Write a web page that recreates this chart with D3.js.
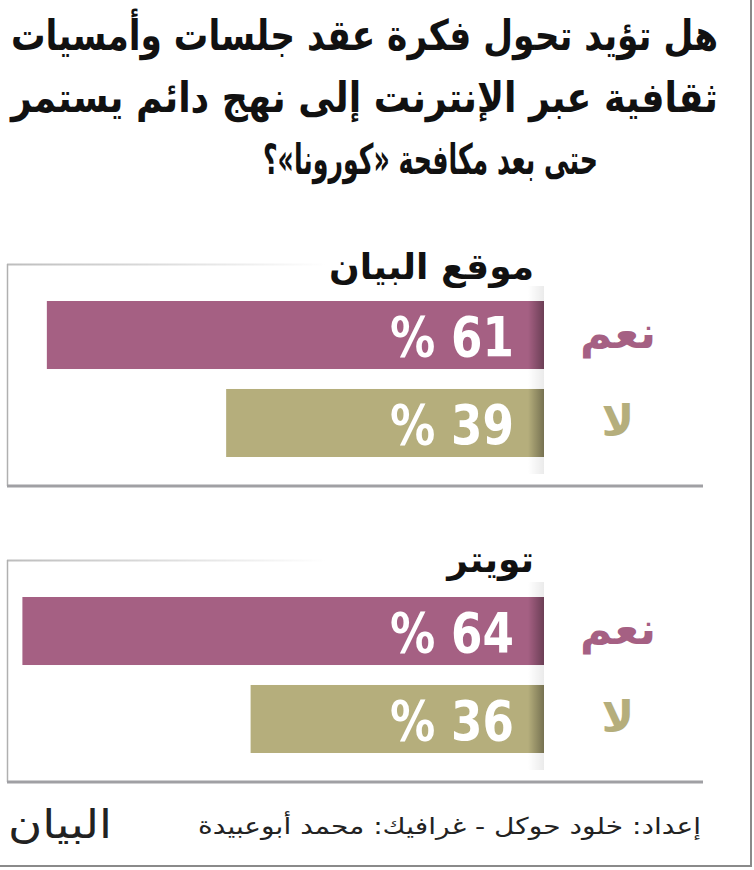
<!DOCTYPE html>
<html>
<head>
<meta charset="utf-8">
<script src="https://cdn.jsdelivr.net/npm/d3@7"></script>
<style>
  body { margin: 0; background: #fff; }
  svg { display: block; }
  text { font-family: "DejaVu Sans", sans-serif; }
</style>
</head>
<body>
<div class="chart"></div>
<script>
// Question title, one entry per line
var titleLines = [
	"هل تؤيد تحول فكرة عقد جلسات وأمسيات",
	"ثقافية عبر الإنترنت إلى نهج دائم يستمر",
	"حتى بعد مكافحة «كورونا»؟"
];

// Panels (source of the poll) and answers
var sources = ["موقع البيان", "تويتر"];
var answers = ["نعم", "لا"];
var siteValues = [61, 39];    // موقع البيان
var twitterValues = [64, 36]; // تويتر
var answerColors = ["#a56083", "#b5ae7c"];

var credits = "إعداد: خلود حوكل - غرافيك: محمد أبوعبيدة";
var logoText = "البيان";

var width = 754, height = 870;
var barEnd = 544;              // right end of every bar
var panelTops = [264, 560];    // top line of each panel box

var svg = d3.select('.chart')
	.append('svg')
	.attr('width', width)
	.attr('height', height);

var defs = svg.append('defs');

// top border of the boxes fades out to the right
var fade = defs.append('linearGradient')
	.attr('id', 'topFade')
	.attr('x1', 0).attr('x2', 1).attr('y1', 0).attr('y2', 0);
fade.append('stop').attr('offset', 0).attr('stop-color', '#bdbdbd').attr('stop-opacity', 1);
fade.append('stop').attr('offset', 1).attr('stop-color', '#bdbdbd').attr('stop-opacity', 0);

// shadow at the end of the bars
var shade = defs.append('linearGradient')
	.attr('id', 'shade')
	.attr('x1', 0).attr('x2', 1).attr('y1', 0).attr('y2', 0);
shade.append('stop').attr('offset', 0).attr('stop-color', '#000').attr('stop-opacity', 0);
shade.append('stop').attr('offset', 1).attr('stop-color', '#000').attr('stop-opacity', 0.35);

var shadeGap = defs.append('linearGradient')
	.attr('id', 'shadeGap')
	.attr('x1', 0).attr('x2', 1).attr('y1', 0).attr('y2', 0);
shadeGap.append('stop').attr('offset', 0).attr('stop-color', '#000').attr('stop-opacity', 0);
shadeGap.append('stop').attr('offset', 1).attr('stop-color', '#000').attr('stop-opacity', 0.08);

// outer frame: right and bottom edges
svg.append('line')
	.attr('x1', 751).attr('x2', 751).attr('y1', 0).attr('y2', 866)
	.attr('stroke', '#8a8a8a').attr('stroke-width', 2);
svg.append('line')
	.attr('x1', 0).attr('x2', 752).attr('y1', 866).attr('y2', 866)
	.attr('stroke', '#8a8a8a').attr('stroke-width', 2);

// Title (rtl, so 'start' is the right edge)
svg.selectAll('.title')
	.data(titleLines)
	.enter()
	.append('text')
	.attr('class', 'title')
	.attr('x', function(d, i) { return i < 2 ? 718 : 598; })
	.attr('y', function(d, i) { return 50 + i * 62; })
	.attr('text-anchor', 'start')
	.attr('direction', 'rtl')
	.attr('font-size', 42)
	.attr('font-weight', 'bold')
	.attr('fill', '#111')
	.attr('textLength', function(d, i) { return i < 2 ? 707 : 335; })
	.attr('lengthAdjust', 'spacingAndGlyphs')
	.text(function(d) { return d; });

// bar length scale
var x = d3.scaleLinear().domain([0, 100]).range([0, 815]);

// bars within a panel
var y = d3.scaleBand().domain(answers).range([37, 193]).paddingInner(0.227).paddingOuter(0);

var allValues = [siteValues, twitterValues];

function drawPanel(p) {
	var g = svg.append('g')
		.attr('transform', 'translate(0,' + panelTops[p] + ')');
	var values = allValues[p];

	// box edges
	g.append('rect')
		.attr('x', 7).attr('y', -0.5)
		.attr('width', 320).attr('height', 2)
		.attr('fill', 'url(#topFade)');
	g.append('line')
		.attr('x1', 7.5).attr('x2', 7.5).attr('y1', 0).attr('y2', 222)
		.attr('stroke', '#b0b0b0').attr('stroke-width', 1.5);
	g.append('line')
		.attr('x1', 7).attr('x2', 703).attr('y1', 222).attr('y2', 222)
		.attr('stroke', '#a0a0a4').attr('stroke-width', 3);

	g.append('text')
		.attr('x', 534)
		.attr('y', p == 0 ? 15 : 12)
		.attr('text-anchor', 'start')
		.attr('direction', 'rtl')
		.attr('font-size', 36)
		.attr('font-weight', 'bold')
		.attr('fill', '#111')
		.text(sources[p]);

	// faint shadow down the edge of the label column
	g.append('rect')
		.attr('x', 528).attr('y', 22)
		.attr('width', 16).attr('height', 188)
		.attr('fill', 'url(#shadeGap)');

	answers.forEach(function(a, i) {
		g.append('rect')
			.attr('x', barEnd - x(values[i]))
			.attr('y', y(a))
			.attr('width', x(values[i]))
			.attr('height', y.bandwidth())
			.attr('fill', answerColors[i]);

		g.append('rect')
			.attr('x', barEnd - 16)
			.attr('y', y(a))
			.attr('width', 16)
			.attr('height', y.bandwidth())
			.attr('fill', 'url(#shade)');

		// value
		g.append('text')
			.attr('x', 514)
			.attr('y', y(a) + y.bandwidth() / 2)
			.attr('dy', '.37em')
			.attr('text-anchor', 'end')
			.attr('font-size', 56)
			.attr('font-weight', 'bold')
			.attr('fill', '#fff')
			.attr('textLength', 124)
			.attr('lengthAdjust', 'spacingAndGlyphs')
			.text('% ' + values[i]);

		// answer label
		g.append('text')
			.attr('x', 618)
			.attr('y', y(a) + y.bandwidth() / 2)
			.attr('dy', '.3em')
			.attr('text-anchor', 'middle')
			.attr('direction', 'rtl')
			.attr('font-size', 44)
			.attr('font-weight', 'bold')
			.attr('fill', answerColors[i])
			.text(a);
	});
}

drawPanel(0);
drawPanel(1);

// Footer
svg.append('text')
	.attr('x', 701)
	.attr('y', 834)
	.attr('text-anchor', 'start')
	.attr('direction', 'rtl')
	.attr('font-size', 23)
	.attr('fill', '#222')
	.attr('textLength', 503)
	.attr('lengthAdjust', 'spacingAndGlyphs')
	.text(credits);

svg.append('text')
	.attr('x', 112)
	.attr('y', 838)
	.attr('text-anchor', 'start')
	.attr('direction', 'rtl')
	.attr('font-size', 40)
	.attr('font-family', 'serif')
	.attr('fill', '#222')
	.attr('textLength', 104)
	.attr('lengthAdjust', 'spacingAndGlyphs')
	.text(logoText);
</script>
</body>
</html>
